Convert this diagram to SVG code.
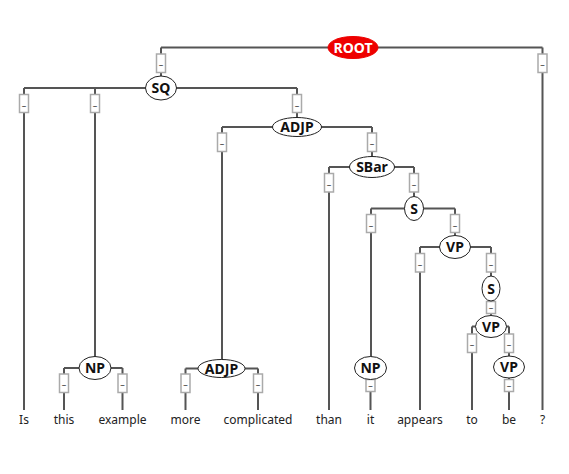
<svg xmlns="http://www.w3.org/2000/svg" width="569" height="474" viewBox="0 0 569 474">
<style>
.e{fill:none;stroke:#555;stroke-width:2}
.b{fill:#fff;stroke:#aaa;stroke-width:1.5}
.d{font-family:"Noto Sans","Open Sans",sans-serif;font-size:9px;fill:#333;text-anchor:middle}
.n{fill:#fff;stroke:#222;stroke-width:1}
.l{font-family:"Noto Sans","Open Sans",sans-serif;font-size:14px;font-weight:bold;fill:#111;text-anchor:middle}
.w{font-family:"Noto Sans","Open Sans",sans-serif;font-size:12px;fill:#222;text-anchor:middle}
</style>
<rect width="569" height="474" fill="#fff"/>
<g id="connectors">
<path class="e" d="M161 47.5H542.5M161 47.5V76M542.5 47.5V410"/>
<path class="e" d="M24 88H297M24 88V410M95 88V357M297 88V117.5"/>
<path class="e" d="M222 127H372M222 127V360M372 127V156"/>
<path class="e" d="M329 167H414M329 167V410M414 167V196.5"/>
<path class="e" d="M371 208.5H455M371 208.5V357M455 208.5V235"/>
<path class="e" d="M420 247H491M420 247V410M491 247V276"/>
<path class="e" d="M491 288.5V315"/>
<path class="e" d="M472 326.5H509M472 326.5V410M509 326.5V356"/>
<path class="e" d="M509 367V410"/>
<path class="e" d="M64 368H122.5M64 368V410M122.5 368V410"/>
<path class="e" d="M185.5 368.5H258M185.5 368.5V410M258 368.5V410"/>
<path class="e" d="M370.5 368V410"/>
</g>
<g id="edge-labels">
<rect class="b" x="156.5" y="54" width="9" height="18.5"/><text class="d" x="161" y="68">–</text>
<rect class="b" x="538" y="54" width="9" height="18.5"/><text class="d" x="542.5" y="68">–</text>
<rect class="b" x="19.5" y="94.5" width="9" height="18"/><text class="d" x="24" y="108.5">–</text>
<rect class="b" x="90.5" y="94.5" width="9" height="18"/><text class="d" x="95" y="108.5">–</text>
<rect class="b" x="292.5" y="94.5" width="9" height="18"/><text class="d" x="297" y="108.5">–</text>
<rect class="b" x="217.5" y="133" width="9" height="18.5"/><text class="d" x="222" y="147">–</text>
<rect class="b" x="367.5" y="133" width="9" height="18.5"/><text class="d" x="372" y="147">–</text>
<rect class="b" x="324.5" y="173.5" width="9" height="18.5"/><text class="d" x="329" y="187.5">–</text>
<rect class="b" x="409.5" y="173.5" width="9" height="18.5"/><text class="d" x="414" y="187.5">–</text>
<rect class="b" x="366.5" y="214.5" width="9" height="18"/><text class="d" x="371" y="228.5">–</text>
<rect class="b" x="450.5" y="214.5" width="9" height="18"/><text class="d" x="455" y="228.5">–</text>
<rect class="b" x="415.5" y="253.5" width="9" height="18.5"/><text class="d" x="420" y="267.5">–</text>
<rect class="b" x="486.5" y="253.5" width="9" height="18.5"/><text class="d" x="491" y="267.5">–</text>
<rect class="b" x="486.5" y="301.5" width="9" height="12"/><text class="d" x="491" y="310.5">–</text>
<rect class="b" x="467.5" y="334" width="9" height="18.5"/><text class="d" x="472" y="348">–</text>
<rect class="b" x="504.5" y="334" width="9" height="18.5"/><text class="d" x="509" y="348">–</text>
<rect class="b" x="504.5" y="379.5" width="9" height="12"/><text class="d" x="509" y="388.5">–</text>
<rect class="b" x="59.5" y="374" width="9" height="18.5"/><text class="d" x="64" y="388">–</text>
<rect class="b" x="118" y="374" width="9" height="18.5"/><text class="d" x="122.5" y="388">–</text>
<rect class="b" x="181" y="374" width="9" height="18.5"/><text class="d" x="185.5" y="388">–</text>
<rect class="b" x="253.5" y="374" width="9" height="18.5"/><text class="d" x="258" y="388">–</text>
<rect class="b" x="366" y="379.5" width="9" height="12"/><text class="d" x="370.5" y="388.5">–</text>
</g>
<g id="ROOT"><ellipse cx="353" cy="47.5" rx="25" ry="11" fill="#e00" stroke="#e00"/><text class="l" x="353" y="52.5" style="fill:#fff">ROOT</text></g>
<g id="SQ"><ellipse class="n" cx="161" cy="88" rx="15.5" ry="12"/><text class="l" x="161" y="93">SQ</text></g>
<g id="ADJP"><ellipse class="n" cx="297" cy="127" rx="24.5" ry="9.5"/><text class="l" x="297" y="132">ADJP</text></g>
<g id="SBar"><ellipse class="n" cx="372" cy="167" rx="22.5" ry="10.5"/><text class="l" x="372" y="172">SBar</text></g>
<g id="S"><ellipse class="n" cx="414" cy="208.5" rx="9.5" ry="12"/><text class="l" x="414" y="213.5">S</text></g>
<g id="VP"><ellipse class="n" cx="455" cy="247" rx="15.5" ry="11.5"/><text class="l" x="455" y="252">VP</text></g>
<g id="S2"><ellipse class="n" cx="491" cy="288.5" rx="9" ry="12.5"/><text class="l" x="491" y="293.5">S</text></g>
<g id="VP2"><ellipse class="n" cx="491" cy="326.5" rx="15.5" ry="11"/><text class="l" x="491" y="331.5">VP</text></g>
<g id="VP3"><ellipse class="n" cx="509" cy="367" rx="15.5" ry="11"/><text class="l" x="509" y="372">VP</text></g>
<g id="NP"><ellipse class="n" cx="95" cy="368" rx="16" ry="11.5"/><text class="l" x="95" y="373">NP</text></g>
<g id="ADJP2"><ellipse class="n" cx="221.5" cy="368.5" rx="23.5" ry="9"/><text class="l" x="221.5" y="373.5">ADJP</text></g>
<g id="NP2"><ellipse class="n" cx="370.5" cy="368" rx="16" ry="11.5"/><text class="l" x="370.5" y="373">NP</text></g>
<g id="w-Is"><text class="w" x="24" y="424">Is</text></g>
<g id="w-this"><text class="w" x="64" y="424">this</text></g>
<g id="w-example"><text class="w" x="122.5" y="424">example</text></g>
<g id="w-more"><text class="w" x="185.5" y="424">more</text></g>
<g id="w-complicated"><text class="w" x="258" y="424">complicated</text></g>
<g id="w-than"><text class="w" x="329" y="424">than</text></g>
<g id="w-it"><text class="w" x="370.5" y="424">it</text></g>
<g id="w-appears"><text class="w" x="420" y="424">appears</text></g>
<g id="w-to"><text class="w" x="472" y="424">to</text></g>
<g id="w-be"><text class="w" x="509" y="424">be</text></g>
<g id="w-q"><text class="w" x="542.5" y="424">?</text></g>
</svg>
